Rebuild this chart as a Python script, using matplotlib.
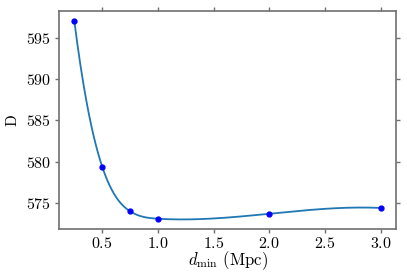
import numpy as np
import matplotlib
matplotlib.use("Agg")
import matplotlib.pyplot as plt

d_min = [0.25, 0.5, 0.75, 1.0, 2.0, 3.0]
D_vals = [597.0, 579.4, 574.0, 573.1, 573.7, 574.4]

plt.rcParams['font.family'] = 'serif'
plt.rcParams['font.serif'] = ['cmr10', 'DejaVu Serif']
plt.rcParams['mathtext.fontset'] = 'cm'
plt.rcParams['axes.formatter.use_mathtext'] = True


def not_a_knot_spline(x, y):
    x = np.asarray(x, float)
    y = np.asarray(y, float)
    n = len(x) - 1
    A = np.zeros((4 * n, 4 * n))
    b = np.zeros(4 * n)
    r = 0
    for i in range(n):
        h = x[i + 1] - x[i]
        A[r, 4 * i] = 1; b[r] = y[i]; r += 1
        A[r, 4 * i:4 * i + 4] = [1, h, h ** 2, h ** 3]; b[r] = y[i + 1]; r += 1
    for i in range(n - 1):
        h = x[i + 1] - x[i]
        A[r, 4 * i:4 * i + 4] = [0, 1, 2 * h, 3 * h ** 2]; A[r, 4 * (i + 1) + 1] = -1; r += 1
        A[r, 4 * i:4 * i + 4] = [0, 0, 2, 6 * h]; A[r, 4 * (i + 1) + 2] = -2; r += 1
    for i in (0, n - 2):
        A[r, 4 * i + 3] = 6; A[r, 4 * (i + 1) + 3] = -6; r += 1
    coef = np.linalg.solve(A, b).reshape(n, 4)

    def f(xx):
        xx = np.asarray(xx, float)
        idx = np.clip(np.searchsorted(x, xx) - 1, 0, n - 1)
        t = xx - x[idx]
        c = coef[idx]
        return c[:, 0] + c[:, 1] * t + c[:, 2] * t ** 2 + c[:, 3] * t ** 3
    return f


spl = not_a_knot_spline(d_min, D_vals)
xs = np.linspace(min(d_min), max(d_min), 400)

fig, ax = plt.subplots(figsize=(4.07, 2.78), dpi=100)
fig.subplots_adjust(left=0.145, right=0.973, top=0.96, bottom=0.175)
ax.plot(xs, spl(xs), color='#1f77b4', lw=1.3)
ax.plot(d_min, D_vals, 'o', color='blue', ms=3.5)

ax.set_xlabel(r'$d_{\min}$ (Mpc)', fontsize=12, labelpad=-1)
ax.set_ylabel('D', fontsize=11, labelpad=5)
ax.set_xticks([0.5, 1.0, 1.5, 2.0, 2.5, 3.0])
ax.set_yticks([575, 580, 585, 590, 595])
ax.tick_params(labelsize=11.5, top=True, right=True, color='#707070', width=1, length=3)
ax.tick_params(axis='x', pad=1.5)
ax.tick_params(axis='y', pad=2.5)
for s in ax.spines.values():
    s.set_color('#707070')
    s.set_linewidth(1.2)

fig.savefig('out.png', dpi=100)
